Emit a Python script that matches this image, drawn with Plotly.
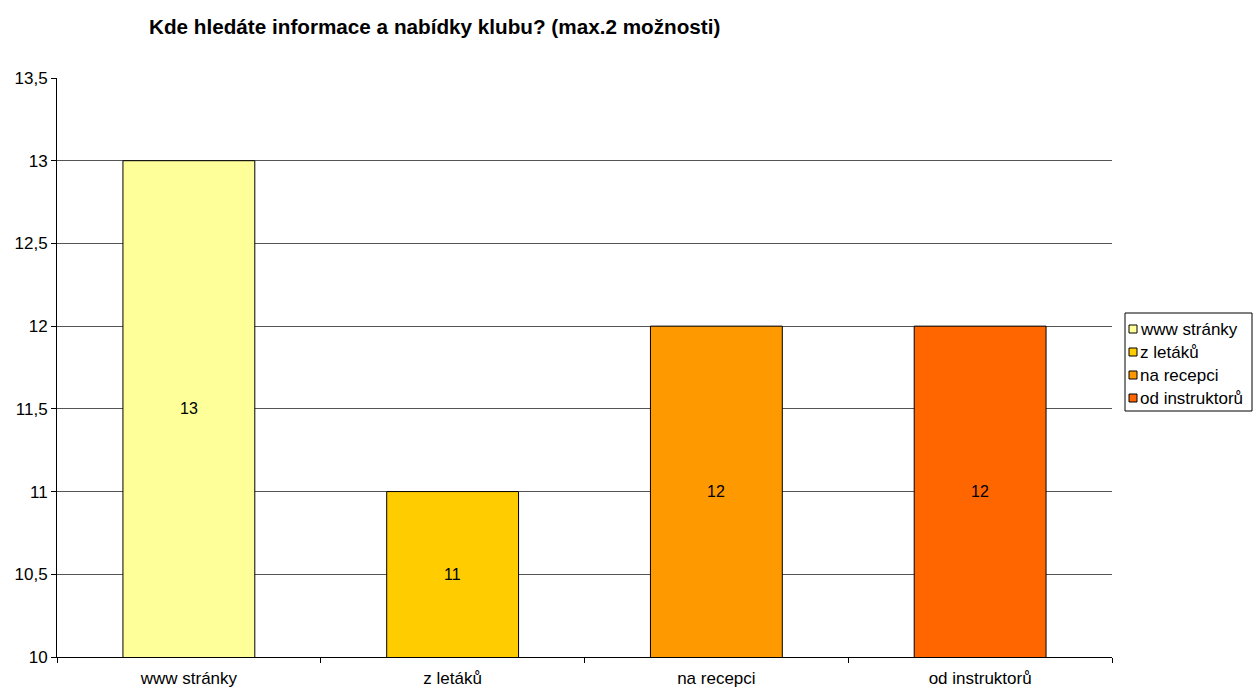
import plotly.graph_objects as go

categories = ["www stránky", "z letáků", "na recepci", "od instruktorů"]
values = [13, 11, 12, 12]
colors = ["#FFFF99", "#FFCC00", "#FF9900", "#FF6600"]
y_ticks = [10, 10.5, 11, 11.5, 12, 12.5, 13, 13.5]
y_tick_labels = ["10", "10,5", "11", "11,5", "12", "12,5", "13", "13,5"]
y_min, y_max = 10, 13.5

FONT = "Liberation Sans, Arial, sans-serif"
W, H = 1257, 688
L, R, T, B = 57, 145, 78, 31
PW, PH = W - L - R, H - T - B


def px(x):
    return (x - L) / PW


def py(y):
    return (H - B - y) / PH


fig = go.Figure()
for cat, val, col in zip(categories, values, colors):
    fig.add_trace(go.Bar(
        x=[cat], y=[val], name=cat,
        marker=dict(color=col, line=dict(color="black", width=1)),
        width=0.5, showlegend=False, hoverinfo="x+y",
    ))

annotations = []
# value labels centred on the visible part of each bar
for cat, val in zip(categories, values):
    annotations.append(dict(
        x=cat, y=(y_min + val) / 2, xref="x", yref="y", text=str(val),
        showarrow=False, font=dict(family=FONT, size=16, color="black"),
    ))

annotations.append(dict(
    text="<b>Kde hledáte informace a nabídky klubu? (max.2 možnosti)</b>",
    xref="paper", yref="paper", x=px(147), y=py(27),
    xanchor="left", yanchor="middle", showarrow=False,
    font=dict(family=FONT, size=20.7, color="black"),
))

# legend box drawn on the right
shapes = [dict(
    type="rect", xref="paper", yref="paper",
    x0=px(1125), x1=px(1252), y0=py(411), y1=py(313),
    line=dict(color="black", width=1), fillcolor="white",
)]
for i, (cat, col) in enumerate(zip(categories, colors)):
    cy = 329 + i * 23
    shapes.append(dict(
        type="rect", xref="paper", yref="paper",
        x0=px(1129), x1=px(1137), y0=py(cy + 4), y1=py(cy - 4),
        line=dict(color="black", width=1), fillcolor=col,
    ))
    annotations.append(dict(
        text=cat, xref="paper", yref="paper", x=px(1138), y=py(cy),
        xanchor="left", yanchor="middle", showarrow=False,
        font=dict(family=FONT, size=17, color="black"),
    ))

fig.update_layout(
    width=W, height=H,
    margin=dict(l=L, r=R, t=T, b=B),
    paper_bgcolor="white", plot_bgcolor="white",
    barmode="overlay",
    showlegend=False,
    annotations=annotations,
    shapes=shapes,
    xaxis=dict(
        type="category", categoryorder="array", categoryarray=categories,
        showline=True, linecolor="black", linewidth=1,
        ticks="outside", tickson="boundaries", ticklen=5, tickcolor="black",
        tickfont=dict(family=FONT, size=17, color="black"),
        ticklabelstandoff=6,
        showgrid=False, automargin=False,
    ),
    yaxis=dict(
        range=[y_min, y_max], tickvals=y_ticks, ticktext=y_tick_labels,
        showline=True, linecolor="black", linewidth=1,
        ticks="outside", ticklen=5, tickcolor="black",
        tickfont=dict(family=FONT, size=17, color="black"),
        showgrid=True, gridcolor="#555555", gridwidth=1,
        zeroline=False, automargin=False,
    ),
)

fig.write_html("out.html")
